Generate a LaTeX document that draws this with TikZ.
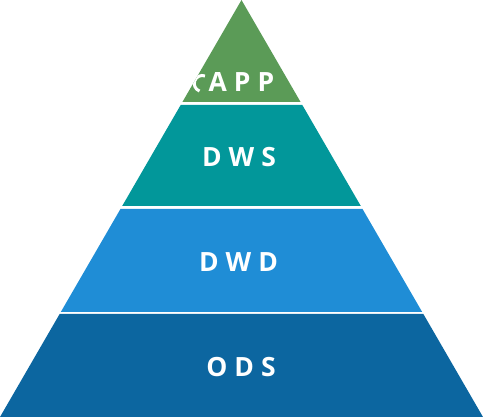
\documentclass[tikz,border=0pt]{standalone}
\usepackage{fontspec}
\setmainfont{Open Sans}
\definecolor{cgreen}{HTML}{5B9B57}
\definecolor{cteal}{HTML}{02979A}
\definecolor{cblue}{HTML}{1F8DD6}
\definecolor{cdark}{HTML}{0C66A0}
\newcommand{\gapsp}{\hspace{7pt}}
\tikzset{
  lab/.style={text=white, font=\bfseries\fontsize{26.5}{30}\selectfont, inner sep=0pt, anchor=center},
}
\begin{document}
\begin{tikzpicture}[x=1pt,y=1pt]
\useasboundingbox (0,0) rectangle (483,417);
\fill[cgreen] (241.5,417) -- (182.43,315) -- (300.57,315) -- cycle;
\fill[cteal] (180.69,312) -- (302.31,312) -- (360.8,211) -- (122.2,211) -- cycle;
\fill[cblue] (120.46,208) -- (362.54,208) -- (422.19,105) -- (60.81,105) -- cycle;
\fill[cdark] (59.65,103) -- (423.35,103) -- (483,0) -- (0,0) -- cycle;
\begin{scope}
\clip (241.5,417) -- (182.43,315) -- (300.57,315) -- cycle;
\draw[white, line width=3pt] (205,341) arc[start angle=70, end angle=250, radius=8];
\end{scope}
\node[lab] (app) at (241.5,335) {A\gapsp P\gapsp P};
\node[lab] (dws) at (239,260) {D\gapsp W\gapsp S};
\node[lab] (dwd) at (238.5,155) {D\gapsp W\gapsp D};
\node[lab] (ods) at (241,49.5) {O\gapsp D\gapsp S};
\end{tikzpicture}
\end{document}
